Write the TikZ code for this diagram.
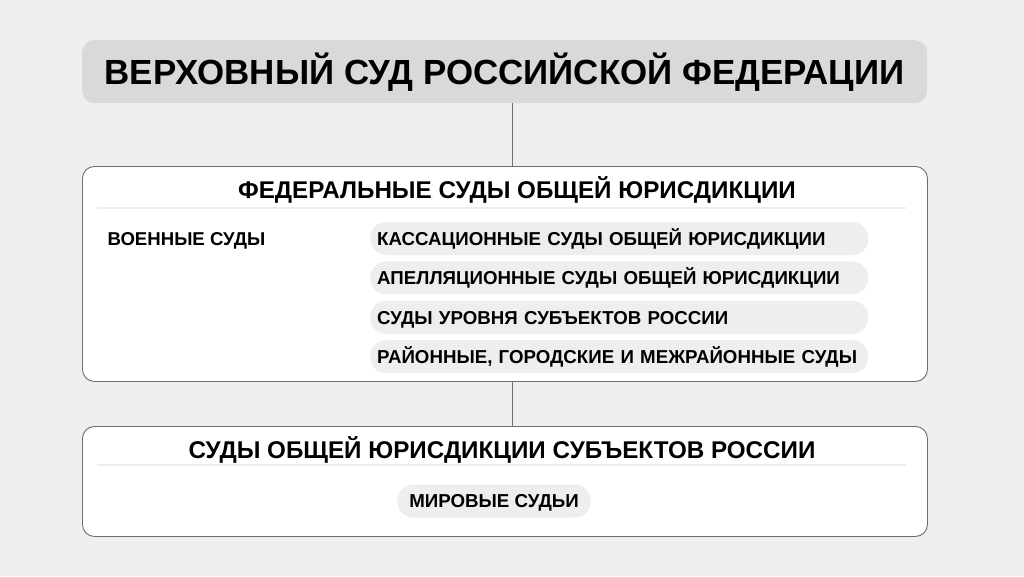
\documentclass[tikz,border=0pt]{standalone}
\usepackage{fontspec}
\setmainfont{Liberation Sans}
\usetikzlibrary{positioning,calc}

\definecolor{bgcol}{HTML}{F0EFED}
\definecolor{headcol}{HTML}{D9D9D9}
\definecolor{pillcol}{HTML}{EFEEEC}
\definecolor{edgecol}{HTML}{6E6E6E}
\definecolor{sepcol}{HTML}{EDEDED}

\tikzset{
  panel/.style={draw=edgecol, line width=0.9pt, fill=white, rounded corners=12pt,
    minimum width=845pt, anchor=north west},
  court/.style={fill=pillcol, rounded corners=16pt, minimum height=33pt,
    text height=17.5pt, text depth=4pt,
    inner xsep=11pt, font=\bfseries\fontsize{18.7}{22}\selectfont},
  courtrow/.style={court, text width=484pt, inner xsep=7pt, align=left},
  heading/.style={font=\bfseries\fontsize{24.2}{28}\selectfont},
  link/.style={draw=edgecol, line width=0.8pt},
  sepline/.style={draw=sepcol, line width=2pt}
}

\begin{document}
\begin{tikzpicture}[x=1pt,y=-1pt]
  % background
  \fill[bgcol] (0,0) rectangle (1024,576);
  \useasboundingbox (0,0) rectangle (1024,576);
  \coordinate (axis) at (512,0);

  % supreme court
  \node[fill=headcol, rounded corners=12pt, minimum width=845pt, minimum height=63pt,
    anchor=north west, font=\bfseries\fontsize{34.9}{40}\selectfont] (top) at (82,40)
    {ВЕРХОВНЫЙ СУД РОССИЙСКОЙ ФЕДЕРАЦИИ};

  % federal courts
  \node[panel, minimum height=215pt] (fed) at (82,166) {};
  \node[heading] (fedhead) at (517,190) {ФЕДЕРАЛЬНЫЕ СУДЫ ОБЩЕЙ ЮРИСДИКЦИИ};
  \draw[sepline] ($(fed.north west)+(15,42)$) -- ($(fed.north east)+(-22,42)$);
  \node[anchor=west, font=\bfseries\fontsize{18.6}{22}\selectfont] (mil) at (104,241) {ВОЕННЫЕ СУДЫ};
  \node[courtrow, anchor=west] (cass) at (370,238.5)
    {КАССАЦИОННЫЕ СУДЫ ОБЩЕЙ ЮРИСДИКЦИИ};
  \node[courtrow, below=6pt of cass] (appeal)
    {АПЕЛЛЯЦИОННЫЕ СУДЫ ОБЩЕЙ ЮРИСДИКЦИИ};
  \node[courtrow, below=6pt of appeal] (subj)
    {СУДЫ УРОВНЯ СУБЪЕКТОВ РОССИИ};
  \node[courtrow, below=6pt of subj] (dist)
    {РАЙОННЫЕ, ГОРОДСКИЕ И МЕЖРАЙОННЫЕ СУДЫ};

  % regional courts
  \node[panel, minimum height=110pt] (reg) at (82,426) {};
  \node[heading] (reghead) at (502,450) {СУДЫ ОБЩЕЙ ЮРИСДИКЦИИ СУБЪЕКТОВ РОССИИ};
  \draw[sepline] ($(reg.north west)+(15,39)$) -- ($(reg.north east)+(-22,39)$);
  \node[court, inner xsep=12pt] (peace) at (494,501) {МИРОВЫЕ СУДЬИ};

  % links
  \draw[link] (top.south -| axis) -- (fed.north -| axis);
  \draw[link] (fed.south -| axis) -- (reg.north -| axis);
\end{tikzpicture}
\end{document}
